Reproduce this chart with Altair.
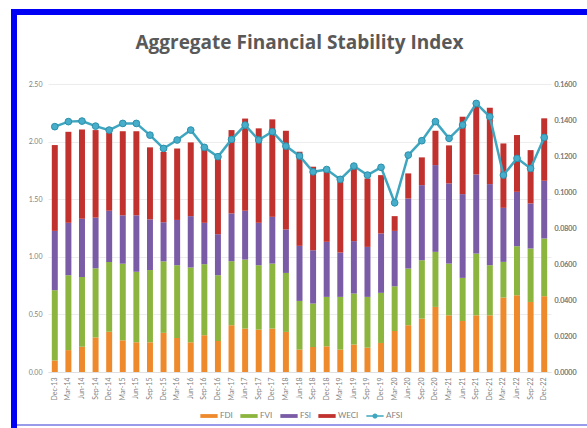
import altair as alt
import pandas as pd

quarters = ["Dec-13", "Mar-14", "Jun-14", "Sep-14", "Dec-14", "Mar-15", "Jun-15", "Sep-15",
            "Dec-15", "Mar-16", "Jun-16", "Sep-16", "Dec-16", "Mar-17", "Jun-17", "Sep-17",
            "Dec-17", "Mar-18", "Jun-18", "Sep-18", "Dec-18", "Mar-19", "Jun-19", "Sep-19",
            "Dec-19", "Mar-20", "Jun-20", "Sep-20", "Dec-20", "Mar-21", "Jun-21", "Sep-21",
            "Dec-21", "Mar-22", "Jun-22", "Sep-22", "Dec-22"]

fdi = [0.100, 0.190, 0.220, 0.300, 0.350, 0.275, 0.258, 0.258, 0.340, 0.295, 0.258, 0.319,
       0.269, 0.406, 0.377, 0.368, 0.377, 0.348, 0.194, 0.217, 0.223, 0.194, 0.238, 0.211,
       0.252, 0.356, 0.406, 0.463, 0.565, 0.492, 0.443, 0.492, 0.492, 0.646, 0.666, 0.608, 0.658]
fvi = [0.610, 0.650, 0.605, 0.600, 0.605, 0.665, 0.612, 0.627, 0.620, 0.632, 0.649, 0.617,
       0.571, 0.556, 0.599, 0.559, 0.564, 0.512, 0.423, 0.377, 0.429, 0.458, 0.443, 0.441,
       0.435, 0.388, 0.492, 0.507, 0.478, 0.449, 0.374, 0.536, 0.435, 0.310, 0.426, 0.464, 0.501]
fsi = [0.515, 0.455, 0.505, 0.440, 0.445, 0.420, 0.490, 0.440, 0.340, 0.393, 0.446, 0.359,
       0.356, 0.414, 0.424, 0.368, 0.406, 0.377, 0.478, 0.463, 0.478, 0.385, 0.455, 0.434,
       0.515, 0.481, 0.608, 0.652, 0.753, 0.696, 0.727, 0.687, 0.704, 0.469, 0.472, 0.391, 0.501]
weci = [0.745, 0.790, 0.775, 0.760, 0.677, 0.730, 0.730, 0.625, 0.610, 0.620, 0.640, 0.637,
        0.652, 0.724, 0.800, 0.820, 0.846, 0.857, 0.817, 0.725, 0.637, 0.614, 0.646, 0.594,
        0.507, 0.128, 0.218, 0.241, 0.298, 0.330, 0.672, 0.615, 0.663, 0.559, 0.493, 0.463, 0.542]
afsi = [0.1363, 0.1391, 0.1394, 0.1366, 0.1344, 0.1381, 0.1381, 0.1316, 0.1242, 0.1289, 0.1344,
        0.1248, 0.1196, 0.1292, 0.1372, 0.1289, 0.1335, 0.1255, 0.1200, 0.1112, 0.1125, 0.1070,
        0.1144, 0.1094, 0.1137, 0.0940, 0.1205, 0.1285, 0.1391, 0.1298, 0.1372, 0.1492, 0.1418,
        0.1094, 0.1187, 0.1131, 0.1303]

bar_series = ["FDI", "FVI", "FSI", "WECI"]
legend_names = bar_series + ["AFSI"]
left_ticks = [0.0, 0.5, 1.0, 1.5, 2.0, 2.5]
right_ticks = [0.0, 0.02, 0.04, 0.06, 0.08, 0.10, 0.12, 0.14, 0.16]

colors = ["#EE8A2C", "#8CB540", "#7A5BA6", "#C1312E", "#3FA6C0"]
RECT = "M-1,-0.22H1V0.22H-1Z"
LINE_SYM = ("M-1,-0.09H-0.28V0.09H-1Z M0.28,-0.09H1V0.09H0.28Z "
            "M0.3,0A0.3,0.3,0,1,1,-0.3,0A0.3,0.3,0,1,1,0.3,0Z")

rows = []
for i, q in enumerate(quarters):
    for k, (name, vals) in enumerate(zip(bar_series, [fdi, fvi, fsi, weci])):
        rows.append({"quarter": q, "series": name, "value": vals[i], "k": k})
bars_df = pd.DataFrame(rows)
line_df = pd.DataFrame({"quarter": quarters, "series": ["AFSI"] * len(quarters), "afsi": afsi})

FONT = "Lato"
GRAY = "#7f7f7f"

color_scale = alt.Scale(domain=legend_names, range=colors)
shape_scale = alt.Scale(domain=legend_names, range=[RECT] * 4 + [LINE_SYM])

x_enc = alt.X("quarter:N", sort=quarters,
              scale=alt.Scale(paddingInner=0.56, paddingOuter=0.28),
              axis=alt.Axis(title=None, labelAngle=270, labelFontSize=7, labelColor=GRAY,
                            labelFont=FONT, ticks=False, domainColor="#e0e0e0",
                            labelPadding=5))

legend = alt.Legend(title=None, orient="none", legendX=152, legendY=323,
                    direction="horizontal", labelFontSize=8, labelColor=GRAY,
                    labelFont=FONT, symbolSize=300, columnPadding=7, labelOffset=2,
                    symbolStrokeWidth=0)

bars = alt.Chart(bars_df).mark_bar().encode(
    x=x_enc,
    y=alt.Y("value:Q", stack="zero",
            scale=alt.Scale(domain=[0, 2.5], nice=False),
            axis=alt.Axis(title=None, values=left_ticks, format=".2f", labelFontSize=7,
                          labelColor=GRAY, labelFont=FONT, ticks=False, domain=False,
                          gridColor="#ececec", labelPadding=6)),
    color=alt.Color("series:N", scale=color_scale, legend=legend),
    order=alt.Order("k:Q", sort="ascending"),
)

afsi_y = alt.Y("afsi:Q", scale=alt.Scale(domain=[0, 0.16], nice=False),
               axis=alt.Axis(title=None, orient="right", values=right_ticks, format=".4f",
                             labelFontSize=7, labelColor=GRAY, labelFont=FONT, ticks=False,
                             domain=False, grid=False, labelPadding=3))

line = alt.Chart(line_df).mark_line(color="#3FA6C0", strokeWidth=2.5).encode(
    x=x_enc, y=afsi_y)
points = alt.Chart(line_df).mark_point(filled=True, size=45, opacity=1, color="#46AECB",
                                       stroke="#2C8FAA", strokeWidth=1).encode(
    x=x_enc, y=afsi_y)

legend_layer = alt.Chart(line_df).transform_filter("false").mark_point(
    filled=True, opacity=1).encode(
    color=alt.Color("series:N", scale=color_scale, legend=legend),
    shape=alt.Shape("series:N", scale=shape_scale, legend=legend),
)

frame_df = pd.DataFrame({"a": [0]})
left_border = alt.Chart(frame_df).mark_rule(color="#0000F5", strokeWidth=6).encode(
    x=alt.value(-34), y=alt.value(-75), y2=alt.value(344))
top_border = alt.Chart(frame_df).mark_rule(color="#0000F5", strokeWidth=6).encode(
    x=alt.value(-37), x2=alt.value(545), y=alt.value(-72))
bottom_border = alt.Chart(frame_df).mark_rule(color="#9A9AEA", strokeWidth=2).encode(
    x=alt.value(-31), x2=alt.value(545), y=alt.value(341))

chart = alt.layer(bars, line, points, legend_layer, left_border, top_border, bottom_border).resolve_scale(
    y="independent"
).properties(
    width=503, height=288,
    title=alt.TitleParams("Aggregate Financial Stability Index", fontSize=19, font="Open Sans",
                          fontWeight="bold", color="#595959", anchor="middle",
                          baseline="alphabetic", frame="group", offset=-62),
    autosize=alt.AutoSizeParams(type="none"),
    padding={"left": 48, "top": 84, "right": 36, "bottom": 56},
    background="white",
).configure_view(stroke=None)

chart.save("out.html", embed_options={"renderer": "svg", "actions": False})
